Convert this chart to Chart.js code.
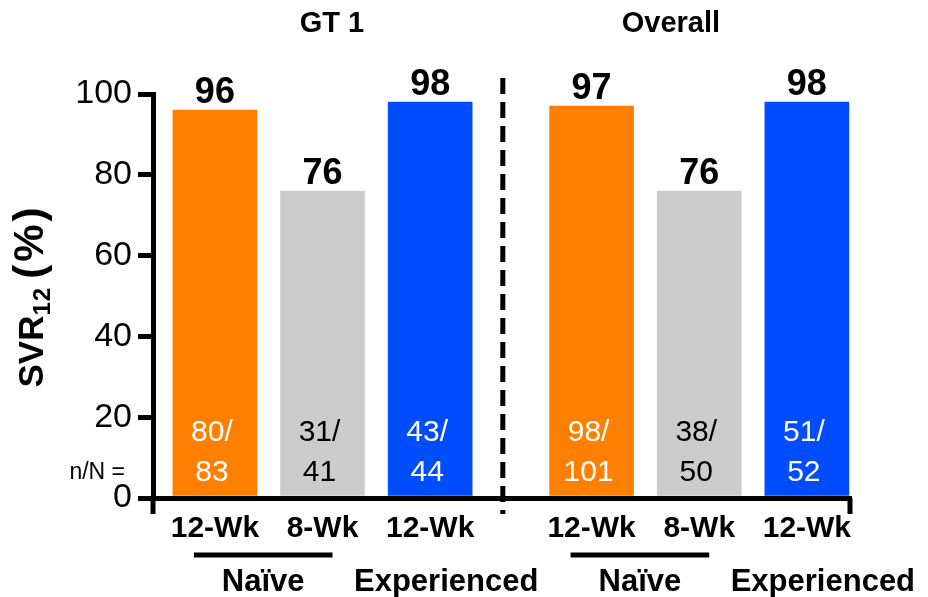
<!DOCTYPE html>
<html>
<head>
<meta charset="utf-8">
<script src="https://cdn.jsdelivr.net/npm/chart.js@4.4.0/dist/chart.umd.min.js"></script>
<style>
  html, body { margin: 0; padding: 0; background: #fff; }
</style>
</head>
<body>
<canvas id="chart" width="928" height="597"></canvas>
<script>
// data
const groups = ['GT 1', 'Overall'];
const groupOf = [0, 0, 0, 1, 1, 1];
const weeks = ['12-Wk', '8-Wk', '12-Wk', '12-Wk', '8-Wk', '12-Wk'];
const arms = ['Naïve', 'Naïve', 'Experienced', 'Naïve', 'Naïve', 'Experienced'];
const svr = [96, 76, 98, 97, 76, 98];
const responders = [80, 31, 43, 98, 38, 51];
const totals = [83, 41, 44, 101, 50, 52];
const yTicks = [0, 20, 40, 60, 80, 100];

// layout: slot position of each bar on the hidden x scale (gap around the divider)
const slot = [0, 2, 4, 7, 9, 11];
const divider = 5.35;
const barColors = ['#FF8000', '#CCCCCC', '#004CFF', '#FF8000', '#CCCCCC', '#004CFF'];
const innerText = ['#fff', '#000', '#fff', '#fff', '#000', '#fff'];
const FONT = '"Liberation Sans", Arial, sans-serif';

const overlay = {
  id: 'overlay',
  afterDraw(chart) {
    const ctx = chart.ctx;
    const a = chart.chartArea;
    const xs = chart.scales.x;
    const bars = chart.getDatasetMeta(0).data;
    ctx.save();

    // end ticks on the x axis and the dashed divider
    ctx.strokeStyle = '#000';
    ctx.lineWidth = 5;
    ctx.beginPath();
    ctx.moveTo(a.left, a.bottom);
    ctx.lineTo(a.left, a.bottom + 16);
    ctx.moveTo(a.right - 1, a.bottom);
    ctx.lineTo(a.right - 1, a.bottom + 16);
    ctx.stroke();
    const dx = xs.getPixelForValue(divider);
    ctx.setLineDash([16, 8]);
    ctx.beginPath();
    ctx.moveTo(dx, a.top - 16);
    ctx.lineTo(dx, a.bottom + 16);
    ctx.stroke();
    ctx.setLineDash([]);

    // group titles
    ctx.fillStyle = '#000';
    ctx.textAlign = 'center';
    ctx.textBaseline = 'middle';
    ctx.font = 'bold 29px ' + FONT;
    ctx.fillText(groups[0], (a.left + dx) / 2 + 4, 24);
    ctx.fillText(groups[1], (dx + a.right) / 2 - 6, 24);

    bars.forEach((b, i) => {
      // value above bar
      ctx.fillStyle = '#000';
      ctx.textBaseline = 'alphabetic';
      ctx.font = 'bold 36px ' + FONT;
      ctx.fillText(String(svr[i]), b.x, b.y - 7);
      // n/N inside bar
      ctx.fillStyle = innerText[i];
      ctx.textBaseline = 'middle';
      ctx.font = '30px ' + FONT;
      ctx.fillText(responders[i] + '/', b.x - 3, a.bottom - 65);
      ctx.fillText(String(totals[i]), b.x - 3, a.bottom - 25);
    });

    ctx.fillStyle = '#000';
    ctx.textAlign = 'right';
    ctx.font = '23px ' + FONT;
    ctx.fillText('n/N =', 125, a.bottom - 25);

    // arm brackets and labels
    ctx.textAlign = 'center';
    ctx.font = 'bold 31px ' + FONT;
    let i = 0;
    while (i < bars.length) {
      let j = i;
      while (j + 1 < bars.length && arms[j + 1] === arms[i] && groupOf[j + 1] === groupOf[i]) j++;
      if (j > i) {
        const x1 = bars[i].x - 21, x2 = bars[j].x + 10;
        ctx.beginPath();
        ctx.moveTo(x1, a.bottom + 57);
        ctx.lineTo(x2, a.bottom + 57);
        ctx.stroke();
        ctx.fillText(arms[i], (x1 + x2) / 2, a.bottom + 84);
      } else {
        ctx.fillText(arms[i], bars[i].x + 16, a.bottom + 84);
      }
      i = j + 1;
    }

    // y axis title with subscript
    ctx.save();
    ctx.translate(43, 296);
    ctx.rotate(-Math.PI / 2);
    ctx.textAlign = 'left';
    ctx.textBaseline = 'alphabetic';
    const big = 'bold 35px ' + FONT, small = 'bold 24px ' + FONT, paren = 'bold 42px ' + FONT;
    const gap = 8;
    ctx.font = big;
    const w1 = ctx.measureText('SVR').width;
    ctx.font = small;
    const w2 = ctx.measureText('12').width + 2;
    ctx.font = paren;
    ctx.letterSpacing = '3px';
    const w3 = ctx.measureText('(%)').width;
    ctx.letterSpacing = '0px';
    let x = -(w1 + w2 + gap + w3) / 2;
    ctx.font = big;
    ctx.fillText('SVR', x, 0);
    x += w1;
    ctx.font = small;
    ctx.letterSpacing = '1px';
    ctx.fillText('12', x, 7);
    x += w2 + gap;
    ctx.font = paren;
    ctx.letterSpacing = '3px';
    ctx.fillText('(%)', x, 0);
    ctx.restore();

    ctx.restore();
  }
};

new Chart(document.getElementById('chart'), {
  type: 'bar',
  data: {
    datasets: [{
      data: slot.map((s, k) => ({ x: s, y: svr[k] })),
      backgroundColor: barColors,
      borderWidth: 0,
      barThickness: 84
    }]
  },
  options: {
    responsive: false,
    animation: false,
    devicePixelRatio: 1,
    layout: { padding: { top: 94, right: 77, bottom: 0, left: 0 } },
    plugins: { legend: { display: false }, tooltip: { enabled: false } },
    scales: {
      x: {
        type: 'linear',
        offset: false,
        min: -1.15,
        max: 11.82,
        afterBuildTicks: (s) => { s.ticks = slot.map(v => ({ value: v })); },
        afterFit: (s) => { s.height = 99; },
        grid: { display: false, drawTicks: false, offset: false },
        border: { display: true, width: 5, color: '#000' },
        ticks: {
          autoSkip: false,
          maxRotation: 0,
          padding: 13,
          color: '#000',
          font: { family: FONT, size: 30, weight: 'bold' },
          callback: (v, k) => weeks[k]
        }
      },
      y: {
        min: 0,
        max: 100,
        afterBuildTicks: (s) => { s.ticks = yTicks.map(v => ({ value: v })); },
        afterFit: (s) => { s.width = 153; },
        grid: { drawOnChartArea: false, drawTicks: true, tickLength: 15, lineWidth: 5, color: '#000' },
        border: { display: true, width: 5, color: '#000' },
        ticks: {
          padding: 6,
          color: '#000',
          font: { family: FONT, size: 34 }
        }
      }
    }
  },
  plugins: [overlay]
});
</script>
</body>
</html>
